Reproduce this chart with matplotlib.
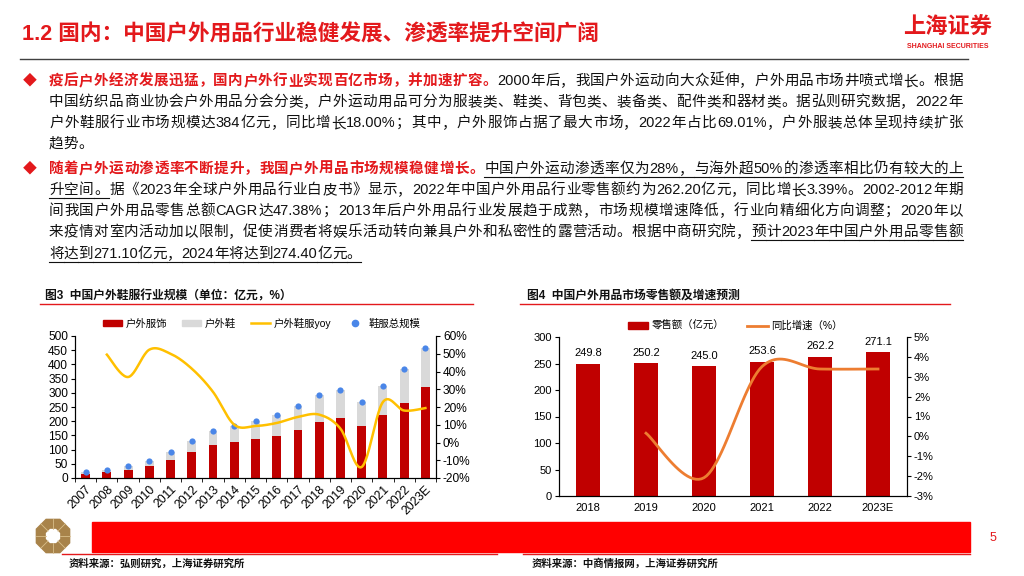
import re
import numpy as np
import matplotlib
matplotlib.use('Agg')
import matplotlib.pyplot as plt
from matplotlib.patches import Patch, Rectangle, Polygon
from matplotlib.lines import Line2D

plt.rcParams['font.family'] = ['Liberation Sans', 'Noto Sans CJK SC']

# ---- data: 图3 户外鞋服行业规模（亿元，%）
years3 = ['2007', '2008', '2009', '2010', '2011', '2012', '2013', '2014', '2015',
          '2016', '2017', '2018', '2019', '2020', '2021', '2022', '2023E']
apparel = [13, 20, 27, 42, 63, 92, 116, 127, 136, 148, 169, 196, 210, 183, 222, 265, 320]
footwear = [7, 9, 14, 19, 30, 38, 49, 56, 64, 74, 83, 95, 101, 86, 103, 119, 139]
total = [20, 29, 41, 61, 93, 130, 165, 183, 200, 222, 252, 291, 311, 269, 325, 384, 459]
yoy = [49.5, 36.9, 52.3, 50.0, 41.6, 28.5, 10.0, 9.3, 11.0, 14.4, 15.7, 7.8, -13.8,
       22.8, 18.0, 19.4]  # 2008 ~ 2023E

# ---- data: 图4 户外用品零售额（亿元）及增速（%）
years4 = ['2018', '2019', '2020', '2021', '2022', '2023E']
retail = [249.8, 250.2, 245.0, 253.6, 262.2, 271.1]
growth = [0.16, -2.08, 3.51, 3.39, 3.39]  # 2019 ~ 2023E

RED = '#E3191C'
BAR_RED = '#C00000'
GRAY = '#D9D9D9'
GOLD = '#FFC000'
BLUE = '#4A86E8'
ORANGE = '#ED7D31'

W, H = 1024, 576
fig = plt.figure(figsize=(W / 100, H / 100), dpi=100)
bg = fig.add_axes([0, 0, 1, 1])
bg.set_xlim(0, W)
bg.set_ylim(H, 0)
bg.axis('off')
renderer = fig.canvas.get_renderer()


def smooth(x, y, n=24):
    # excel-like smoothed line through the points
    x = np.asarray(x, float)
    y = np.asarray(y, float)
    xs, ys = [], []
    for i in range(len(x) - 1):
        p0 = np.array([x[max(i - 1, 0)], y[max(i - 1, 0)]])
        p1 = np.array([x[i], y[i]])
        p2 = np.array([x[i + 1], y[i + 1]])
        p3 = np.array([x[min(i + 2, len(x) - 1)], y[min(i + 2, len(x) - 1)]])
        c1 = p1 + (p2 - p0) / 6
        c2 = p2 - (p3 - p1) / 6
        t = np.linspace(0, 1, n)[:, None]
        pts = ((1 - t) ** 3) * p1 + 3 * ((1 - t) ** 2) * t * c1 + 3 * (1 - t) * t ** 2 * c2 + t ** 3 * p2
        xs.extend(pts[:, 0])
        ys.extend(pts[:, 1])
    return xs, ys


# ---- header
bg.text(22, 35, '1.2 国内：中国户外用品行业稳健发展、渗透率提升空间广阔', color=RED,
        fontsize=15.6, fontweight='bold', va='center', ha='left')
bg.text(948, 28, '上海证券', color=RED, fontsize=16, fontweight='bold', va='center', ha='center')
bg.text(948, 46, 'SHANGHAI SECURITIES', color=RED, fontsize=5, fontweight='bold',
        va='center', ha='center')
bg.plot([20, 968], [59, 59], color='#404040', lw=1)

# ---- body text, justified line by line
cache = {}


def tok_w(tok, size, weight):
    key = (tok, size, weight)
    if key not in cache:
        t = bg.text(0, 0, tok, fontsize=size, fontweight=weight)
        cache[key] = t.get_window_extent(renderer).width
        t.remove()
    return cache[key]


def text_line(y, segs, x0=49, x1=963, size=10.5, justify=True):
    toks = []
    for s, color, weight, ul in segs:
        for tok in re.findall(r'[A-Za-z0-9.%\-]+|.', s):
            toks.append((tok, color, weight, ul))
    ws = [tok_w(t[0], size, t[2]) for t in toks]
    gap = (x1 - x0 - sum(ws)) / (len(toks) - 1) if justify else 0
    x = x0
    for (tok, color, weight, ul), w in zip(toks, ws):
        bg.text(x, y + 5, tok, color=color, fontsize=size, fontweight=weight,
                va='baseline', ha='left')
        if ul:
            bg.plot([x, x + w + gap], [y + 9, y + 9], color='#111111', lw=0.8)
        x += w + gap


K = '#111111'
bg.text(30, 80, '◆', color=RED, fontsize=10, va='center', ha='center')
text_line(80, [('疫后户外经济发展迅猛，国内户外行业实现百亿市场，并加速扩容。', RED, 'bold', False),
               ('2000年后，我国户外运动向大众延伸，户外用品市场井喷式增长。根据', K, 'normal', False)])
text_line(101, [('中国纺织品商业协会户外用品分会分类，户外运动用品可分为服装类、鞋类、背包类、装备类、配件类和器材类。据弘则研究数据，2022年', K, 'normal', False)])
text_line(122, [('户外鞋服行业市场规模达384亿元，同比增长18.00%；其中，户外服饰占据了最大市场，2022年占比69.01%，户外服装总体呈现持续扩张', K, 'normal', False)])
text_line(143, [('趋势。', K, 'normal', False)], justify=False)
bg.text(30, 168, '◆', color=RED, fontsize=10, va='center', ha='center')
text_line(168, [('随着户外运动渗透率不断提升，我国户外用品市场规模稳健增长。', RED, 'bold', False),
                ('中国户外运动渗透率仅为28%，与海外超50%的渗透率相比仍有较大的上', K, 'normal', True)])
text_line(189, [('升空间。', K, 'normal', True),
                ('据《2023年全球户外用品行业白皮书》显示，2022年中国户外用品行业零售额约为262.20亿元，同比增长3.39%。2002-2012年期', K, 'normal', False)])
text_line(210, [('间我国户外用品零售总额CAGR达47.38%；2013年后户外用品行业发展趋于成熟，市场规模增速降低，行业向精细化方向调整；2020年以', K, 'normal', False)])
text_line(231, [('来疫情对室内活动加以限制，促使消费者将娱乐活动转向兼具户外和私密性的露营活动。根据中商研究院，', K, 'normal', False),
                ('预计2023年中国户外用品零售额', K, 'normal', True)])
text_line(253, [('将达到271.10亿元，2024年将达到274.40亿元。', K, 'normal', True)], justify=False)

# ---- chart titles
bg.text(45, 296, '图3  中国户外鞋服行业规模（单位：亿元，%）', color='#111111', fontsize=8.5,
        fontweight='bold', va='center', ha='left')
bg.plot([40, 473], [304, 304], color=RED, lw=1)
bg.text(527, 296, '图4  中国户外用品市场零售额及增速预测', color='#111111', fontsize=8.5,
        fontweight='bold', va='center', ha='left')
bg.plot([520, 950], [304, 304], color=RED, lw=1)

# ---- left chart
ax = fig.add_axes([75 / W, (H - 478) / H, 361 / W, 142 / H])
ax.set_facecolor('none')
x3 = np.arange(len(years3))
ax.bar(x3, apparel, width=0.42, color=BAR_RED, zorder=2)
ax.bar(x3, footwear, bottom=apparel, width=0.42, color=GRAY, zorder=2)
ax.scatter(x3, total, s=20, color=BLUE, zorder=4, linewidths=0)
ax.set_xlim(-0.5, len(years3) - 0.5)
ax.set_ylim(0, 500)
ax.set_yticks(np.arange(0, 501, 50))
ax.set_xticks(x3)
ax.set_xticklabels(years3, rotation=45, ha='right', va='top', rotation_mode='anchor')
ax.set_xticks(np.arange(-0.5, len(years3), 1), minor=True)
ax.tick_params(axis='x', which='major', length=0, labelsize=8.8, pad=4)
ax.tick_params(axis='x', which='minor', length=3, direction='out')
ax.tick_params(axis='y', length=3, labelsize=8.6, pad=2)
ax.spines['top'].set_visible(False)
for s in ['left', 'bottom', 'right']:
    ax.spines[s].set_linewidth(0.8)
ax2 = ax.twinx()
lx, ly = smooth(x3[1:], yoy)
ax2.plot(lx, ly, color=GOLD, lw=1.8, zorder=3)
ax2.set_ylim(-20, 60)
ax2.set_yticks(np.arange(-20, 61, 10))
ax2.set_yticklabels([f'{v}%' for v in range(-20, 61, 10)])
ax2.tick_params(axis='y', length=3, labelsize=8.6, pad=2)
ax2.spines['top'].set_visible(False)
ax2.set_xlim(-0.5, len(years3) - 0.5)

h3 = [Patch(color=BAR_RED), Patch(color=GRAY), Line2D([], [], color=GOLD, lw=1.8),
      Line2D([], [], color=BLUE, marker='o', ls='', markersize=4.5)]
fig.legend(h3, ['户外服饰', '户外鞋', '户外鞋服yoy', '鞋服总规模'], loc='center',
           bbox_to_anchor=(262 / W, 1 - 323 / H), ncol=4, frameon=False, fontsize=7.5,
           handlelength=1.8, handleheight=0.6, columnspacing=1.4, handletextpad=0.4)

# ---- right chart
bx = fig.add_axes([559 / W, (H - 496) / H, 348 / W, 159 / H])
bx.set_facecolor('none')
x4 = np.arange(len(years4))
bars = bx.bar(x4, retail, width=0.41, color=BAR_RED, zorder=2)
for b, v in zip(bars, retail):
    bx.annotate(f'{v:.1f}', (b.get_x() + b.get_width() / 2, v), xytext=(0, 4),
                textcoords='offset points', ha='center', va='bottom', fontsize=8)
bx.set_xlim(-0.5, len(years4) - 0.5)
bx.set_ylim(0, 300)
bx.set_yticks(np.arange(0, 301, 50))
bx.set_xticks(x4)
bx.set_xticklabels(years4)
bx.tick_params(axis='x', length=0, labelsize=8, pad=5)
bx.tick_params(axis='y', length=3, labelsize=8, pad=2)
bx.spines['top'].set_visible(False)
bx2 = bx.twinx()
gx, gy = smooth(x4[1:], growth)
bx2.plot(gx, gy, color=ORANGE, lw=2, zorder=3)
bx2.set_ylim(-3, 5)
bx2.set_yticks(np.arange(-3, 6, 1))
bx2.set_yticklabels([f'{v}%' for v in range(-3, 6)])
bx2.tick_params(axis='y', length=3, labelsize=8, pad=2)
bx2.spines['top'].set_visible(False)
bx2.set_xlim(-0.5, len(years4) - 0.5)

h4 = [Patch(color=BAR_RED), Line2D([], [], color=ORANGE, lw=2)]
fig.legend(h4, ['零售额（亿元）', '同比增速（%）'], loc='center',
           bbox_to_anchor=(735 / W, 1 - 326 / H), ncol=2, frameon=False, fontsize=7.5,
           handlelength=2.0, handleheight=0.6, columnspacing=2.2, handletextpad=0.3)

# ---- footer
bg.add_patch(Rectangle((92, 522), 878, 30, color='#FF0000', zorder=5))
bg.plot([62, 497], [554, 554], color=RED, lw=1)
bg.plot([523, 970], [554, 554], color=RED, lw=1)
ang = np.pi / 8 + np.arange(8) * np.pi / 4
bg.add_patch(Polygon(np.c_[53 + 18 * np.cos(ang), 536 + 18 * np.sin(ang)], color='#A8834A', zorder=5))
bg.add_patch(Polygon(np.c_[53 + 7 * np.cos(ang), 536 + 7 * np.sin(ang)], color='white', zorder=6))
for a in np.arange(8) * np.pi / 4:
    bg.plot([53 + 7 * np.cos(a), 53 + 17 * np.cos(a)], [536 + 7 * np.sin(a), 536 + 17 * np.sin(a)],
            color='#D9BE8A', lw=0.6, zorder=6)
bg.text(993, 538, '5', color=RED, fontsize=9, va='center', ha='center')
bg.text(69, 564, '资料来源：弘则研究，上海证券研究所', color='#111111', fontsize=7.5,
        fontweight='bold', va='center', ha='left')
bg.text(532, 564, '资料来源：中商情报网，上海证券研究所', color='#111111', fontsize=7.5,
        fontweight='bold', va='center', ha='left')

fig.savefig('out.png', dpi=100)
